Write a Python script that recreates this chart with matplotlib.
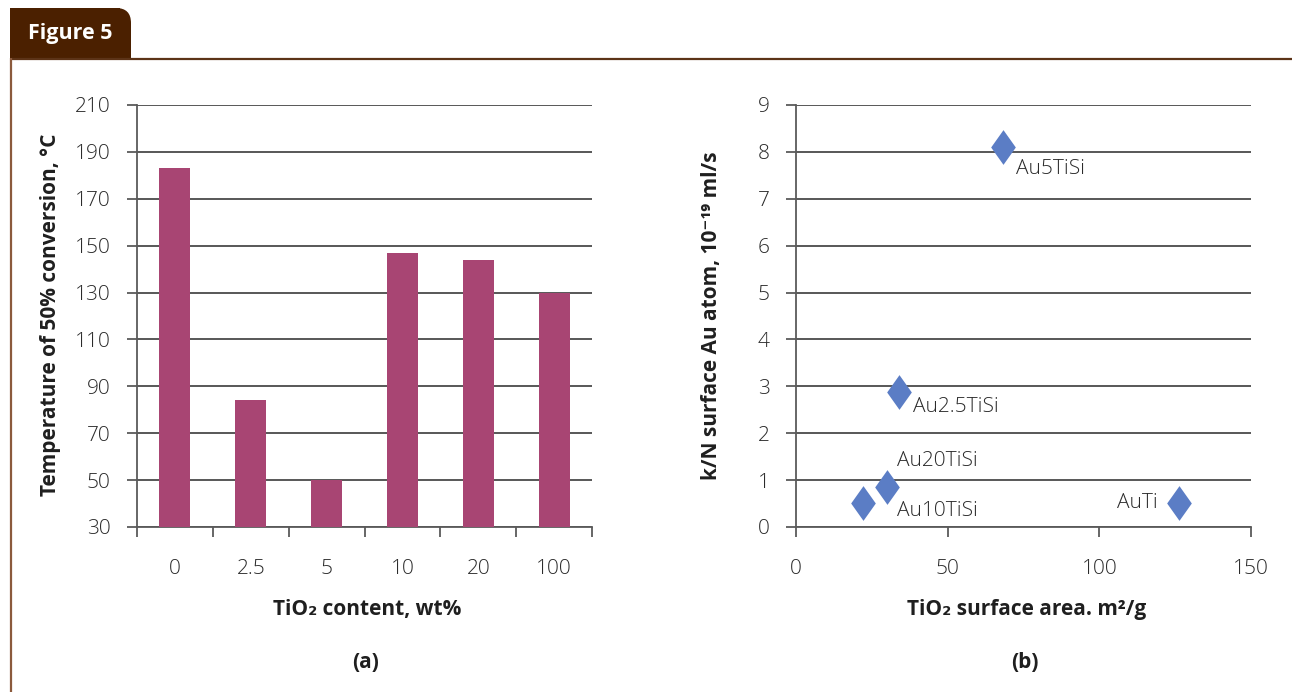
import matplotlib
matplotlib.use("Agg")
import matplotlib.pyplot as plt
from matplotlib.path import Path
from matplotlib.patches import FancyBboxPatch, Rectangle
import numpy as np

# ---- data -------------------------------------------------------------
tio2_content = ["0", "2.5", "5", "10", "20", "100"]
t50_temperature = [183, 84, 50, 147, 144, 130]

samples = ["Au5TiSi", "Au2.5TiSi", "Au20TiSi", "Au10TiSi", "AuTi"]
surface_area = [68.3, 34.0, 30.1, 22.2, 126.3]
rate_per_atom = [8.1, 2.88, 0.85, 0.52, 0.52]
# label offsets (pixels) and alignment for each sample name
label_dx = [13, 14, 10, 34, -21]
label_dy = [-22, -15, 26, -8, 0]
label_ha = ["left", "left", "left", "left", "right"]

left_yticks = list(range(30, 211, 20))
right_yticks = list(range(0, 10))
right_xticks = [0, 50, 100, 150]

# ---- style ------------------------------------------------------------
FONT = ["Open Sans", "DejaVu Sans"]
plt.rcParams["font.family"] = FONT
BAR_COLOR = "#A84573"
PT_COLOR = "#5B7DC5"
GRID = "#4a4a4a"
SPINE = "#5a5a5a"
TXT = "#2b2b2b"
BROWN = "#4B2000"

W, H = 1292, 692
fig = plt.figure(figsize=(W / 100, H / 100), dpi=100)
fig.patch.set_facecolor("white")

# frame: tab with caption, rule along the top, rule down the left side
frame = fig.add_axes([0, 0, 1, 1])
frame.set_xlim(0, W)
frame.set_ylim(H, 0)
frame.axis("off")
frame.patch.set_alpha(0)
frame.add_patch(Rectangle((10, 8), 110, 51, color=BROWN, lw=0))
frame.add_patch(FancyBboxPatch((60, 8), 71, 70, boxstyle="round,pad=0,rounding_size=15",
                               color=BROWN, lw=0, mutation_aspect=1))
frame.add_patch(Rectangle((60, 40), 72, 40, color="white", lw=0))
frame.add_patch(Rectangle((60, 30), 71, 29, color=BROWN, lw=0))
frame.plot([10, W], [58.5, 58.5], color="#5C3317", lw=1.6, solid_capstyle="butt")
frame.plot([11, 11], [58, H], color="#8B5A3C", lw=1.6, solid_capstyle="butt")
frame.text(70, 34, "Figure 5", color="white", fontsize=15.5, fontweight="bold",
           ha="center", va="center")


def px_axes(x0, y0, x1, y1):
    return fig.add_axes([x0 / W, 1 - y1 / H, (x1 - x0) / W, (y1 - y0) / H])


def style_axes(ax):
    for s in ["top", "right"]:
        ax.spines[s].set_visible(False)
    for s in ["left", "bottom"]:
        ax.spines[s].set_color(SPINE)
        ax.spines[s].set_linewidth(1.3)
    ax.yaxis.grid(True, color=GRID, lw=1.3)
    ax.set_axisbelow(True)
    ax.tick_params(axis="y", length=7, width=1.3, color=SPINE, pad=12,
                   labelsize=15, labelcolor=TXT)
    for lab in ax.get_yticklabels():
        lab.set_fontweight("light")


# ---- (a) bar chart ----------------------------------------------------
axa = px_axes(137, 105, 592, 527)
xpos = np.arange(len(tio2_content))
axa.bar(xpos, np.array(t50_temperature) - 30, bottom=30, width=0.41,
        color=BAR_COLOR, zorder=3)
axa.set_xlim(-0.5, len(tio2_content) - 0.5)
axa.set_ylim(30, 210)
axa.set_yticks(left_yticks)
axa.set_xticks(np.arange(len(tio2_content) + 1) - 0.5)
axa.set_xticklabels([])
axa.set_xticks(xpos, minor=True)
axa.set_xticklabels(tio2_content, minor=True)
axa.tick_params(axis="x", which="major", length=7, width=1.3, color=SPINE)
axa.tick_params(axis="x", which="minor", length=0, pad=23, labelsize=15,
                labelcolor=TXT)
style_axes(axa)
for lab in axa.get_xticklabels(minor=True):
    lab.set_fontweight("light")

# ---- (b) scatter ------------------------------------------------------
axb = px_axes(796, 105, 1251, 527)
diamond = Path([(0, 1), (0.71, 0), (0, -1), (-0.71, 0), (0, 1)],
               [Path.MOVETO, Path.LINETO, Path.LINETO, Path.LINETO, Path.CLOSEPOLY])
axb.plot(surface_area, rate_per_atom, linestyle="none", marker=diamond,
         markersize=25, color=PT_COLOR, markeredgewidth=0, zorder=3,
         clip_on=False)
for name, x, y, dx, dy, ha in zip(samples, surface_area, rate_per_atom,
                                  label_dx, label_dy, label_ha):
    axb.annotate(name, (x, y), xytext=(dx, dy), textcoords="offset pixels",
                 ha=ha, va="center", fontsize=15, color=TXT, fontweight="light")
axb.set_xlim(0, 150)
axb.set_ylim(0, 9)
axb.set_yticks(right_yticks)
axb.set_xticks(right_xticks)
axb.tick_params(axis="x", length=7, width=1.3, color=SPINE, pad=16,
                labelsize=15, labelcolor=TXT)
style_axes(axb)
for lab in axb.get_xticklabels():
    lab.set_fontweight("light")

# ---- axis titles and panel captions ----------------------------------
lab_kw = dict(fontsize=15, fontweight="bold", color="#1f1f1f",
              ha="center", va="center")
fig.text(51 / W, 1 - 315 / H, "Temperature of 50% conversion, °C", rotation=90, **lab_kw)
fig.text(712 / W, 1 - 316 / H, "k/N surface Au atom, 10⁻¹⁹ ml/s", rotation=90, **lab_kw)
fig.text(367 / W, 1 - 610 / H, "TiO₂ content, wt%", **lab_kw)
fig.text(1027 / W, 1 - 610 / H, "TiO₂ surface area. m²/g", **lab_kw)
fig.text(366 / W, 1 - 662 / H, "(a)", **lab_kw)
fig.text(1025 / W, 1 - 662 / H, "(b)", **lab_kw)

fig.savefig("out.png", dpi=100, facecolor="white")
